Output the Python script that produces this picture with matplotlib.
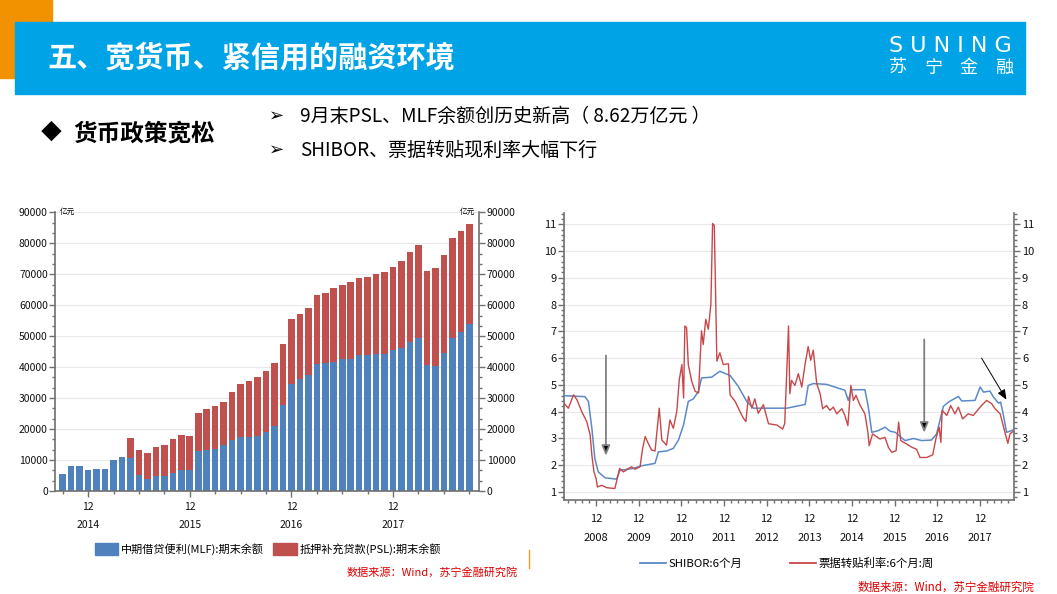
import matplotlib
matplotlib.use('Agg')
import matplotlib.pyplot as plt
import numpy as np
import pandas as pd
from matplotlib.patches import Rectangle, Patch
from matplotlib.lines import Line2D
from matplotlib.ticker import MultipleLocator, AutoMinorLocator, FixedLocator

plt.rcParams['font.family'] = ['Noto Sans CJK SC', 'DejaVu Sans']
plt.rcParams['axes.unicode_minus'] = False

# ---- left chart: MLF / PSL balances (亿元), monthly Sep 2014 - Sep 2018
bar_months = [str(p) for p in pd.period_range('2014-09', '2018-09', freq='M')]
mlf = [5400, 8000, 8000, 6700,
       7000, 7000, 9900, 11000, 10700, 5200, 4000, 4800, 4800, 5900, 6800, 6700,
       12900, 13300, 13500, 15000, 16400, 17500, 17300, 17600, 19000, 21000, 27700, 34700,
       36100, 37600, 40900, 41300, 41500, 42600, 42600, 43800, 43800, 44100, 44400, 45400,
       46200, 48200, 49300, 40600, 40400, 44500, 49300, 51400, 54000]
psl = [0, 0, 0, 0,
       0, 0, 0, 0, 6500, 8200, 8400, 9500, 10000, 10800, 11200, 11000,
       12400, 13100, 14100, 13900, 15500, 17200, 18200, 19200, 19700, 20200, 19900, 20700,
       21000, 21400, 22400, 22800, 23900, 23800, 24800, 24900, 25200, 25900, 26200, 26900,
       28100, 28900, 30100, 30400, 31600, 31600, 32300, 32600, 32100]
bar_labels = ['中期借贷便利(MLF):期末余额', '抵押补充贷款(PSL):期末余额']

# ---- right chart: SHIBOR 6M and bill rediscount rate 6M (%), decimal years
shibor_t = [2008.19, 2008.70, 2008.78, 2008.86, 2008.93, 2009.01, 2009.17, 2009.44, 2009.52,
            2009.83, 2010.03, 2010.34, 2010.42, 2010.61, 2010.77, 2010.89, 2011.01, 2011.12,
            2011.24, 2011.36, 2011.43, 2011.67, 2011.86, 2012.10, 2012.29, 2012.49, 2012.65,
            2013.43, 2013.86, 2013.93, 2014.05, 2014.36, 2014.79, 2014.87, 2014.95, 2015.26,
            2015.34, 2015.42, 2015.57, 2015.73, 2015.85, 2015.97, 2016.20, 2016.40, 2016.59,
            2016.82, 2016.94, 2017.10, 2017.22, 2017.45, 2017.53, 2017.84, 2017.96, 2018.04,
            2018.19, 2018.27, 2018.39, 2018.44, 2018.50, 2018.58, 2018.70, 2018.76]
shibor_v = [4.60, 4.56, 4.38, 3.38, 2.25, 1.75, 1.53, 1.48, 1.81,
            1.88, 1.98, 2.07, 2.50, 2.53, 2.63, 2.94, 3.51, 4.38,
            4.48, 4.76, 5.26, 5.29, 5.51, 5.35, 4.95, 4.38, 4.13,
            4.13, 4.27, 4.98, 5.05, 5.02, 4.80, 4.42, 4.82, 4.82,
            4.17, 3.23, 3.29, 3.42, 3.27, 3.23, 2.92, 3.00, 2.92,
            2.94, 3.17, 4.20, 4.36, 4.57, 4.40, 4.42, 4.92, 4.73,
            4.77, 4.55, 4.32, 4.36, 3.92, 3.23, 3.29, 3.36]
bill_t = [2008.20, 2008.31, 2008.43, 2008.51, 2008.62, 2008.74, 2008.82, 2008.86, 2008.91,
          2008.96, 2008.99, 2009.09, 2009.21, 2009.40, 2009.51, 2009.60, 2009.72, 2009.79,
          2009.87, 2009.99, 2010.05, 2010.11, 2010.18, 2010.26, 2010.34, 2010.44, 2010.50,
          2010.61, 2010.69, 2010.77, 2010.85, 2010.91, 2010.97, 2011.01, 2011.04, 2011.08,
          2011.12, 2011.20, 2011.28, 2011.36, 2011.43, 2011.47, 2011.53, 2011.59, 2011.65,
          2011.69, 2011.73, 2011.79, 2011.86, 2011.94, 2012.06, 2012.10, 2012.22, 2012.33,
          2012.41, 2012.47, 2012.53, 2012.61, 2012.68, 2012.76, 2012.88, 2013.00, 2013.20,
          2013.33, 2013.38, 2013.47, 2013.50, 2013.54, 2013.62, 2013.70, 2013.78, 2013.86,
          2013.93, 2013.99, 2014.05, 2014.13, 2014.21, 2014.27, 2014.36, 2014.44, 2014.52,
          2014.60, 2014.72, 2014.79, 2014.86, 2014.93, 2014.99, 2015.05, 2015.15, 2015.26,
          2015.33, 2015.36, 2015.44, 2015.61, 2015.73, 2015.81, 2015.89, 2015.99, 2016.05,
          2016.10, 2016.24, 2016.36, 2016.47, 2016.55, 2016.71, 2016.85, 2016.93, 2017.00,
          2017.04, 2017.07, 2017.18, 2017.27, 2017.37, 2017.45, 2017.55, 2017.68, 2017.80,
          2017.96, 2018.11, 2018.23, 2018.31, 2018.43, 2018.52, 2018.61, 2018.66, 2018.74]
bill_v = [4.32, 4.13, 4.63, 4.45, 4.01, 3.63, 3.13, 2.38, 1.75,
          1.50, 1.19, 1.25, 1.16, 1.13, 1.88, 1.75, 1.88, 1.94,
          1.85, 1.94, 2.63, 3.07, 2.82, 2.57, 2.53, 4.13, 2.94,
          2.75, 3.69, 3.38, 4.01, 5.20, 5.76, 4.51, 7.20, 7.14,
          5.76, 5.14, 4.76, 4.70, 7.02, 6.51, 7.45, 7.08, 8.02,
          11.03, 10.96, 5.89, 6.20, 5.76, 5.79, 4.63, 4.38, 4.01,
          3.76, 3.63, 4.57, 4.13, 4.48, 3.94, 4.26, 3.55, 3.50,
          3.35, 3.55, 7.20, 4.67, 5.17, 4.98, 5.42, 4.92, 5.80,
          6.43, 5.92, 6.30, 5.05, 4.67, 4.11, 4.23, 4.05, 4.17,
          3.92, 4.11, 3.86, 3.48, 4.98, 4.42, 4.61, 4.23, 3.92,
          3.23, 2.73, 3.17, 2.98, 3.04, 2.67, 2.48, 2.54, 3.61,
          2.92, 2.79, 2.67, 2.60, 2.29, 2.29, 2.39, 3.04, 3.42,
          2.85, 4.05, 3.86, 4.23, 3.92, 4.17, 3.73, 3.92, 3.86,
          4.17, 4.42, 4.30, 4.11, 3.92, 3.36, 2.82, 3.17, 3.27]
line_labels = ['SHIBOR:6个月', '票据转贴利率:6个月:周']
tick_years = list(range(2008, 2018))

BLUE = '#4F81BD'
RED = '#C0504D'
SPINE = '#707070'
GRID = '#e8e8e8'
W, H = 1057, 594

fig = plt.figure(figsize=(W / 100, H / 100), dpi=100)

# ---- slide decoration (pixel coordinates)
deco = fig.add_axes([0, 0, 1, 1])
deco.set_xlim(0, W)
deco.set_ylim(H, 0)
deco.axis('off')
deco.add_patch(Rectangle((0, 0), 52, 78, color='#F39200'))
deco.add_patch(Rectangle((15, 22), 1010, 72, color='#00A3E6'))
deco.text(47, 58, '五、宽货币、紧信用的融资环境', color='white', fontsize=21,
          fontweight='bold', va='center', ha='left')
deco.text(950, 46, 'S U N I N G', color='white', fontsize=16, va='center', ha='center',
          family=['DejaVu Sans'])
for i, ch in enumerate('苏宁金融'):
    deco.text(898 + i * 35.3, 68, ch, color='white', fontsize=13, va='center', ha='center')
deco.text(41, 133, '◆', fontsize=15, va='center', ha='left')
deco.text(73, 133, '货币政策宽松', fontsize=17, fontweight='bold', va='center', ha='left')
for yy, txt in [(116, '9月末PSL、MLF余额创历史新高（ 8.62万亿元 ）'),
                (150, 'SHIBOR、票据转贴现利率大幅下行')]:
    deco.text(269, yy, '➢', fontsize=13, va='center', ha='left', family=['DejaVu Sans'])
    deco.text(300, yy, txt, fontsize=13.7, va='center', ha='left')
deco.plot([529, 529], [550, 568], color='#E0A030', lw=1)

src = '数据来源：Wind，苏宁金融研究院'
deco.text(518, 572, src, color='#E00000', fontsize=8, style='italic', ha='right', va='center')
deco.text(1034, 587, src, color='#E00000', fontsize=8.3, style='italic', ha='right', va='center')


def style_axes(ax, labelsize, xpad):
    ax.spines['top'].set_visible(False)
    for s in ['left', 'right', 'bottom']:
        ax.spines[s].set_color(SPINE)
        ax.spines[s].set_linewidth(1.2)
    ax.tick_params(axis='both', which='both', direction='out', color=SPINE,
                   labelcolor='#111111', labelsize=labelsize, width=1)
    ax.tick_params(axis='y', which='both', left=True, right=True,
                   labelleft=True, labelright=True)
    ax.tick_params(which='major', length=4)
    ax.tick_params(axis='y', which='major', pad=1.5)
    ax.tick_params(axis='x', which='major', pad=xpad)
    ax.tick_params(which='minor', length=2)
    ax.grid(axis='y', which='major', color=GRID, lw=0.8)
    ax.set_axisbelow(True)


# ---- left chart: stacked bars
ax1 = fig.add_axes([0.0525, 0.1734, 0.4007, 0.4692])
x = np.arange(len(bar_months))
ax1.bar(x, mlf, width=0.78, color=BLUE, zorder=2)
ax1.bar(x, psl, bottom=mlf, width=0.78, color=RED, zorder=2)
ax1.set_xlim(-0.85, len(bar_months) - 1 + 1.15)
ax1.set_ylim(0, 90000)
ax1.yaxis.set_major_locator(MultipleLocator(10000))
ax1.yaxis.set_minor_locator(AutoMinorLocator(3))
style_axes(ax1, 7.5, 4)
dec_idx = [i for i, m in enumerate(bar_months) if m.endswith('-12')]
ax1.set_xticks(dec_idx)
ax1.set_xticklabels(['12\n\n' + bar_months[i][:4] for i in dec_idx], linespacing=0.85)
ax1.xaxis.set_minor_locator(FixedLocator([i for i, m in enumerate(bar_months)
                                          if int(m[5:]) % 3 == 0]))
ax1.text(0.01, 1.0, '亿元', transform=ax1.transAxes, fontsize=5.5, va='center', ha='left')
ax1.text(0.99, 1.0, '亿元', transform=ax1.transAxes, fontsize=5.5, va='center', ha='right')

fig.legend([Patch(color=BLUE), Patch(color=RED)], bar_labels, loc='center',
           bbox_to_anchor=(268 / W, 1 - 549 / H), ncol=2, frameon=False, fontsize=8,
           handlelength=2.1, handleheight=1.2, handletextpad=0.3, columnspacing=0.8)

# ---- right chart: rates
ax2 = fig.add_axes([0.5339, 0.1582, 0.4257, 0.4832])
ax2.plot(shibor_t, shibor_v, color='#5B8AC6', lw=1.1, zorder=3)
ax2.plot(bill_t, bill_v, color='#C8474A', lw=1.0, zorder=3)
ax2.set_xlim(2008.215, 2018.761)
ax2.set_ylim(0.7, 11.42)
ax2.yaxis.set_major_locator(MultipleLocator(1))
ax2.yaxis.set_minor_locator(AutoMinorLocator(5))
style_axes(ax2, 8, 6)
dec_pos = [y + 0.958 for y in tick_years]
ax2.set_xticks(dec_pos)
ax2.set_xticklabels(['12\n\n' + str(y) for y in tick_years], linespacing=0.95)
ax2.xaxis.set_minor_locator(FixedLocator(np.arange(2008.958 - 5 / 6, 2018.8, 1 / 6)))

arr = dict(arrowstyle='-|>,head_length=0.6,head_width=0.25', fc='black', ec='#808080', lw=1.3)
ax2.annotate('', xy=(2009.19, 2.25), xytext=(2009.19, 6.20), arrowprops=arr)
ax2.annotate('', xy=(2016.65, 3.11), xytext=(2016.65, 6.80), arrowprops=arr)
ax2.annotate('', xy=(2018.61, 4.36), xytext=(2017.96, 6.09),
             arrowprops=dict(arrowstyle='-|>,head_length=0.6,head_width=0.25',
                             color='black', lw=0.7))

fig.legend([Line2D([], [], color='#5B8AC6', lw=1.3), Line2D([], [], color='#C8474A', lw=1.3)],
           line_labels, loc='center', bbox_to_anchor=(787 / W, 1 - 563 / H), ncol=2,
           frameon=False, fontsize=8.2, handlelength=2.3, handletextpad=0.2,
           columnspacing=4.2)

fig.savefig('out.png', dpi=100)
